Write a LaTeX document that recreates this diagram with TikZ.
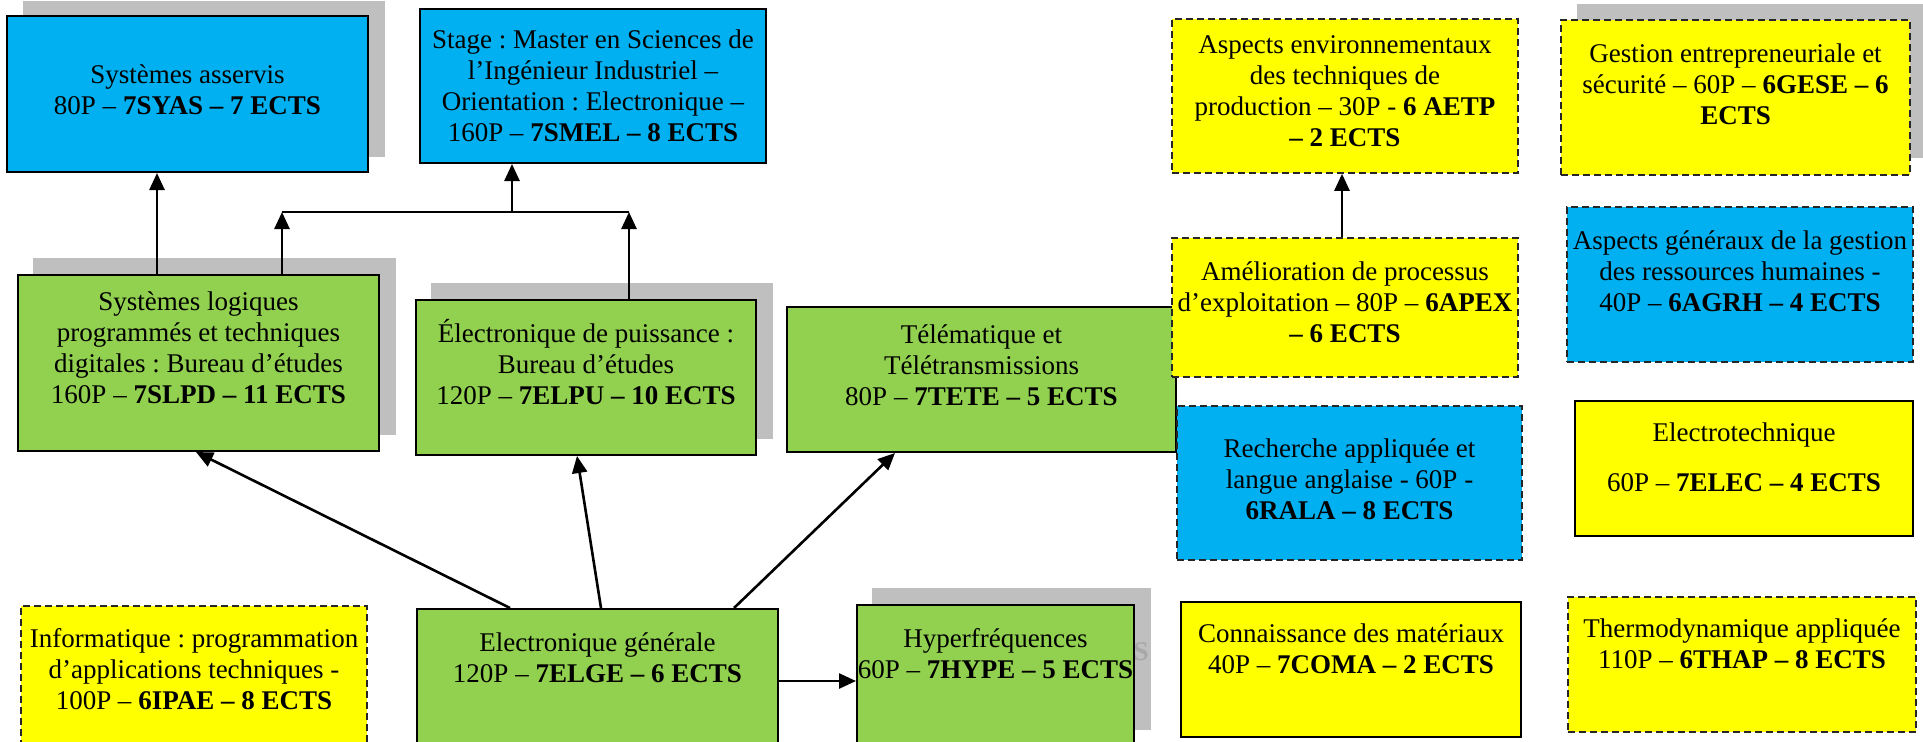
\documentclass[tikz,border=0pt]{standalone}
\usepackage{fontspec}
\setmainfont{Liberation Serif}
\usetikzlibrary{arrows.meta,fit}
\definecolor{cblue}{HTML}{00B0F0}
\definecolor{cgreen}{HTML}{92D050}
\definecolor{cyellow}{HTML}{FFFF00}
\definecolor{cshadow}{HTML}{BFBFBF}
\definecolor{cghost}{HTML}{A8A8A8}
\tikzset{
  solidbox/.style={draw=black, line width=1pt, inner sep=0pt},
  dashbox/.style={draw=black!85, line width=0.8pt, dash pattern=on 3.5pt off 2pt, inner sep=0pt},
  bluebox/.style={solidbox, fill=cblue},
  greenbox/.style={solidbox, fill=cgreen},
  yellowbox/.style={solidbox, fill=cyellow},
  dyellowbox/.style={dashbox, fill=cyellow},
  dbluebox/.style={dashbox, fill=cblue},
  shadowbox/.style={fill=cshadow},
  txt/.style={anchor=north, inner sep=0pt, align=center, font=\fontsize{13.5pt}{15.5pt}\selectfont\frenchspacing},
  ghost/.style={anchor=base, inner sep=0pt, text=cghost, font=\fontsize{13.5pt}{15.5pt}\selectfont\bfseries},
  arr/.style={line width=1.3pt, -{Triangle[length=8.5pt,width=7.5pt]}},
  plain/.style={line width=1.3pt}
}
\newcommand{\fst}{\rule{0pt}{12pt}}
\begin{document}
\begin{tikzpicture}[x=0.5pt,y=-0.5pt]
\useasboundingbox (0,0) rectangle (1923,741);
\clip (0,0) rectangle (1923,741);
% shadows
\fill[shadowbox] (23,1) rectangle (385,157);
\fill[shadowbox] (33,258) rectangle (396,435);
\fill[shadowbox] (431,283) rectangle (773,439);
\fill[shadowbox] (872,588) rectangle (1151,730);
\fill[shadowbox] (1577,4) rectangle (1930,158);
\node[ghost] (ghs) at (1141,660) {S};
% boxes
\node[bluebox, fit={(7,16) (368,172)}] (syas) {};
\node[bluebox, fit={(420,9) (766,163)}] (smel) {};
\node[greenbox, fit={(18,275) (379,451)}] (slpd) {};
\node[greenbox, fit={(416,300) (756,455)}] (elpu) {};
\node[greenbox, fit={(787,307) (1176,452)}] (tete) {};
\node[greenbox, fit={(417,609) (778,770)}] (elge) {};
\node[greenbox, fit={(857,605) (1134,770)}] (hype) {};
\node[dyellowbox, fit={(21,606) (367,770)}] (ipae) {};
\node[dyellowbox, fit={(1172,19) (1518,173)}] (aetp) {};
\node[dyellowbox, fit={(1561,20) (1910,175)}] (gese) {};
\node[dyellowbox, fit={(1172,238) (1518,377)}] (apex) {};
\node[dbluebox, fit={(1567,207) (1913,362)}] (agrh) {};
\node[dbluebox, fit={(1177,406) (1522,560)}] (rala) {};
\node[yellowbox, fit={(1575,401) (1913,536)}] (elec) {};
\node[yellowbox, fit={(1181,602) (1521,737)}] (coma) {};
\node[dyellowbox, fit={(1568,597) (1916,732)}] (thap) {};
% texts
\node[txt] (syast) at (187.5,59) {\fst Systèmes asservis\\80P – \textbf{7SYAS – 7 ECTS}};
\node[txt] (smelt) at (593,24) {\fst Stage : Master en Sciences de\\l’Ingénieur Industriel –\\Orientation : Electronique –\\160P – \textbf{7SMEL – 8 ECTS}};
\node[txt] (slpdt) at (198.5,286) {\fst Systèmes logiques\\programmés et techniques\\digitales : Bureau d’études\\160P – \textbf{7SLPD – 11 ECTS}};
\node[txt] (elput) at (586,318) {\fst Électronique de puissance :\\Bureau d’études\\120P – \textbf{7ELPU – 10 ECTS}};
\node[txt] (tetet) at (981.5,319) {\fst Télématique et\\Télétransmissions\\80P – \textbf{7TETE – 5 ECTS}};
\node[txt] (elget) at (597.5,627) {\fst Electronique générale\\120P – \textbf{7ELGE – 6 ECTS}};
\node[txt] (hypet) at (995.5,623) {\fst Hyperfréquences\\60P – \textbf{7HYPE – 5 ECTS}};
\node[txt] (ipaet) at (194,623) {\fst Informatique : programmation\\d’applications techniques -\\100P – \textbf{6IPAE – 8 ECTS}};
\node[txt] (aetpt) at (1345,29) {\fst Aspects environnementaux\\des techniques de\\production – 30P - \textbf{6 AETP}\\\textbf{– 2 ECTS}};
\node[txt] (geset) at (1735.5,38) {\fst Gestion entrepreneuriale et\\sécurité – 60P – \textbf{6GESE – 6}\\\textbf{ECTS}};
\node[txt] (apext) at (1345,256) {\fst Amélioration de processus\\d’exploitation – 80P – \textbf{6APEX}\\\textbf{– 6 ECTS}};
\node[txt] (agrht) at (1740,225) {\fst Aspects généraux de la gestion\\des ressources humaines -\\40P – \textbf{6AGRH – 4 ECTS}};
\node[txt] (ralat) at (1349.5,433) {\fst Recherche appliquée et\\langue anglaise - 60P -\\\textbf{6RALA – 8 ECTS}};
\node[txt] (elect) at (1744,417) {\fst Electrotechnique\\[9.5pt]60P – \textbf{7ELEC – 4 ECTS}};
\node[txt] (comat) at (1351,618) {\fst Connaissance des matériaux\\40P – \textbf{7COMA – 2 ECTS}};
\node[txt] (thapt) at (1742,613) {\fst Thermodynamique appliquée\\110P – \textbf{6THAP – 8 ECTS}};
% connector coordinates
\coordinate (xa) at (157,0);
\coordinate (xb) at (282,212);
\coordinate (xc) at (629,212);
\coordinate (xd) at (512,212);
\coordinate (e1) at (510,0);
\coordinate (e2) at (601,0);
\coordinate (e3) at (734,0);
\coordinate (h1) at (196,0);
\coordinate (h2) at (577,0);
\coordinate (h3) at (895,0);
\coordinate (yh) at (0,681);
\coordinate (xp) at (1342,0);
% connectors
\draw[arr] (slpd.north -| xa) -- (syas.south -| xa);
\draw[arr] (slpd.north -| xb) -- (xb);
\draw[arr] (elpu.north -| xc) -- (xc);
\draw[plain] (xb) -- (xc);
\draw[arr] (xd) -- (smel.south -| xd);
\draw[arr] (elge.north -| e1) -- (slpd.south -| h1);
\draw[arr] (elge.north -| e2) -- (elpu.south -| h2);
\draw[arr] (elge.north -| e3) -- (tete.south -| h3);
\draw[arr] (elge.east |- yh) -- (hype.west |- yh);
\draw[arr] (apex.north -| xp) -- (aetp.south -| xp);
\end{tikzpicture}
\end{document}
